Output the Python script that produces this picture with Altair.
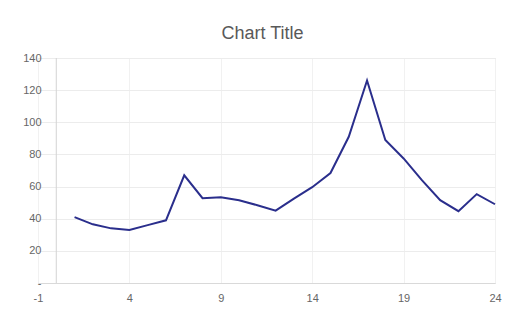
import altair as alt
import pandas as pd

# Data
x_values = list(range(1, 25))
y_values = [41, 36.5, 34, 33, 36, 39, 67, 52.8, 53.4, 51.5, 48.4, 45,
            52.5, 59.6, 68.4, 91, 126, 89, 77.5, 64, 51.5, 44.7, 55.3, 49]
x_ticks = [-1, 4, 9, 14, 19, 24]
y_ticks = [0, 20, 40, 60, 80, 100, 120, 140]
zero_line = [0]

df = pd.DataFrame({"x": x_values, "y": y_values})
zdf = pd.DataFrame({"x": zero_line})

FONT = "Liberation Sans"
LABEL_COLOR = "#666666"

xscale = alt.Scale(domain=[-1, 24], nice=False, zero=False)
yscale = alt.Scale(domain=[0, 140], nice=False)

rule = alt.Chart(zdf).mark_rule(color="#d3d3d3", strokeWidth=1).encode(
    x=alt.X("x:Q", scale=xscale)
)

line = alt.Chart(df).mark_line(color="#2a2e8c", strokeWidth=2).encode(
    x=alt.X(
        "x:Q",
        scale=xscale,
        title=None,
        axis=alt.Axis(
            values=x_ticks,
            grid=True,
            gridColor="#f1f1f1",
            domain=True,
            domainColor="#d9d9d9",
            ticks=False,
            tickSize=0,
            labelPadding=9,
            labelFlush=False,
            labelFontSize=11,
            labelColor=LABEL_COLOR,
            labelFont=FONT,
            labelExpr="replace(datum.label, '\u2212', '-')",
        ),
    ),
    y=alt.Y(
        "y:Q",
        scale=yscale,
        title=None,
        axis=alt.Axis(
            values=y_ticks,
            grid=True,
            gridColor="#ececec",
            domain=False,
            ticks=False,
            tickSize=0,
            labelPadding=2,
            offset=-5,
            labelFontSize=11,
            labelColor=LABEL_COLOR,
            labelFont=FONT,
            labelExpr="datum.value == 0 ? '-\u00a0\u00a0' : datum.label",
        ),
    ),
)

chart = (
    alt.layer(rule, line)
    .properties(
        width=457,
        height=225,
        padding={"left": 30, "top": 50, "right": 10, "bottom": 25},
        autosize=alt.AutoSizeParams(type="none"),
        title=alt.TitleParams(
            text="Chart Title",
            font=FONT,
            fontSize=18,
            fontWeight="normal",
            color="#595959",
            anchor="middle",
            frame="group",
            baseline="alphabetic",
            offset=16,
            dx=-4,
            dy=21,
        ),
    )
    .configure_view(stroke=None)
    .configure(background="white")
)

chart.save("out.html", embed_options={"renderer": "svg", "actions": False})
